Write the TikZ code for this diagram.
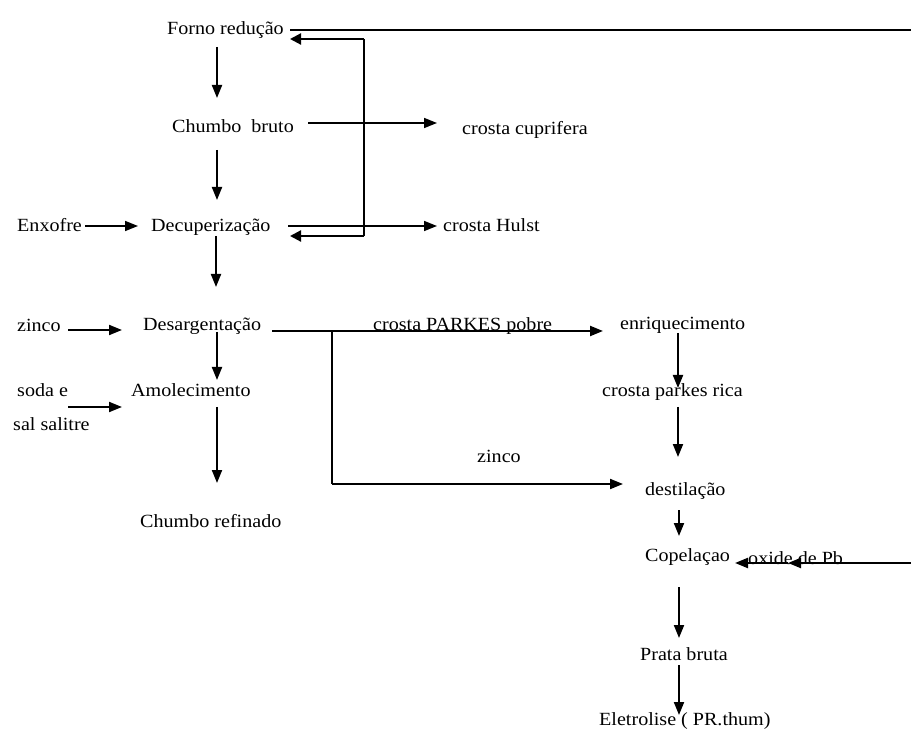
\documentclass[tikz,border=0pt]{standalone}
\usepackage{fontspec}
\setmainfont[FakeStretch=1.08]{Liberation Serif}
\usetikzlibrary{arrows.meta}
\tikzset{
  lbl/.style={anchor=base west, inner sep=0pt, font=\fontsize{18.6}{22}\selectfont},
  arr/.style={line width=2pt, -{Triangle[length=13pt,width=10pt]}},
  thinarr/.style={line width=1.6pt, -{Triangle[length=13pt,width=10pt]}},
  thk/.style={line width=2.2pt},
  thn/.style={line width=1.1pt},
}
\begin{document}
\begin{tikzpicture}[x=1pt,y=-1pt]
\useasboundingbox (0,0) rectangle (911,735);
% labels
\node[lbl] (forno) at (167,35) {Forno redução};
\node[lbl] (cbruto) at (172,133) {Chumbo\ \ bruto};
\node[lbl] (cupr) at (462,135) {crosta cuprifera};
\node[lbl] (enx) at (17,232) {Enxofre};
\node[lbl] (decup) at (151,232) {Decuperização};
\node[lbl] (hulst) at (443,232) {crosta Hulst};
\node[lbl] (zinco1) at (17,332) {zinco};
\node[lbl] (desarg) at (143,331) {Desargentação};
\node[lbl] (pobre) at (373,331) {crosta PARKES pobre};
\node[lbl] (enriq) at (620,330) {enriquecimento};
\node[lbl] (soda) at (17,397) {soda e};
\node[lbl] (sal) at (13,431) {sal salitre};
\node[lbl] (amol) at (131,397) {Amolecimento};
\node[lbl] (rica) at (602,397) {crosta parkes rica};
\node[lbl] (zinco2) at (477,463) {zinco};
\node[lbl] (dest) at (645,495) {destilação};
\node[lbl] (refin) at (140,527) {Chumbo refinado};
\node[lbl] (copel) at (645,561) {Copelaçao};
\node[lbl] (oxide) at (748,564) {oxide de Pb};
\node[lbl] (prata) at (640,660) {Prata bruta};
\node[lbl] (eletro) at (599,725) {Eletrolise ( PR.thum)};
% connector endpoints
\coordinate (a1s) at (217,47);  \coordinate (a1e) at (217,98);
\coordinate (a2s) at (308,123); \coordinate (a2e) at (437,123);
\coordinate (a3s) at (217,150); \coordinate (a3e) at (217,200);
\coordinate (a4s) at (85,226);  \coordinate (a4e) at (138,226);
\coordinate (a5s) at (288,226); \coordinate (a5e) at (437,226);
\coordinate (a6s) at (216,236); \coordinate (a6e) at (216,287);
\coordinate (a7s) at (68,330);  \coordinate (a7e) at (122,330);
\coordinate (a8s) at (272,331); \coordinate (a8e) at (603,331);
\coordinate (br) at (332,331);  \coordinate (brb) at (332,484); \coordinate (a9e) at (623,484);
\coordinate (a10s) at (217,332); \coordinate (a10e) at (217,380);
\coordinate (a11s) at (68,407); \coordinate (a11e) at (122,407);
\coordinate (a12s) at (217,407); \coordinate (a12e) at (217,483);
\coordinate (a13s) at (678,333); \coordinate (a13e) at (678,388);
\coordinate (a14s) at (678,407); \coordinate (a14e) at (678,457);
\coordinate (a15s) at (679,510); \coordinate (a15e) at (679,536);
\coordinate (oxr) at (911,563); \coordinate (oxm) at (788,563); \coordinate (oxe) at (735,563);
\coordinate (a17s) at (679,587); \coordinate (a17e) at (679,638);
\coordinate (a18s) at (679,665); \coordinate (a18e) at (679,715);
\coordinate (tops) at (290,30); \coordinate (tope) at (911,30);
\coordinate (lpa) at (290,39); \coordinate (lpb) at (364,39); \coordinate (lpc) at (364,236); \coordinate (lpd) at (290,236);
% connectors
\draw[arr] (a1s) -- (a1e);
\draw[thinarr] (a2s) -- (a2e);
\draw[arr] (a3s) -- (a3e);
\draw[thinarr] (a4s) -- (a4e);
\draw[thinarr] (a5s) -- (a5e);
\draw[arr] (a6s) -- (a6e);
\draw[arr] (a7s) -- (a7e);
\draw[thk, -{Triangle[length=13pt,width=10pt]}] (a8s) -- (a8e);
\draw[thn] (br) -- (brb);
\draw[arr] (brb) -- (a9e);
\draw[arr] (a10s) -- (a10e);
\draw[arr] (a11s) -- (a11e);
\draw[arr] (a12s) -- (a12e);
\draw[arr] (a13s) -- (a13e);
\draw[arr] (a14s) -- (a14e);
\draw[arr] (a15s) -- (a15e);
\draw[thk, -{Triangle[length=13pt,width=10pt]}] (oxr) -- (oxm);
\draw[thk, -{Triangle[length=13pt,width=10pt]}] (oxm) -- (oxe);
\draw[arr] (a17s) -- (a17e);
\draw[arr] (a18s) -- (a18e);
\draw[line width=1.7pt] (tops) -- (tope);
\draw[thk, -{Triangle[length=11pt,width=11pt]}] (lpb) -- (lpa);
\draw[thn] (lpb) -- (lpc);
\draw[thk, -{Triangle[length=11pt,width=11pt]}] (lpc) -- (lpd);
\end{tikzpicture}
\end{document}
